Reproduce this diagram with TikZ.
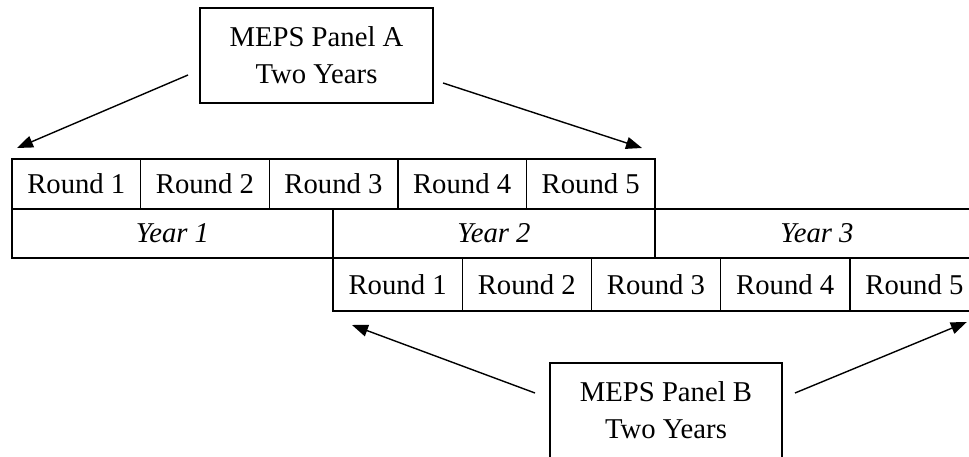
\documentclass[tikz,border=0pt]{standalone}
\usepackage{fontspec}
\setmainfont{Liberation Serif}
\usetikzlibrary{arrows.meta,calc}
\begin{document}
\begin{tikzpicture}[x=1pt,y=-1pt,
  txt/.style={font=\fontsize{28.7}{37}\selectfont},
  cell/.style={draw, line width=1.4pt, inner sep=0pt, outer sep=0pt, anchor=north west, txt},
  toprnd/.style={cell, minimum width=128.6pt, minimum height=50pt},
  yearcell/.style={cell, minimum height=49pt, font=\fontsize{28.7}{37}\selectfont\itshape},
  botrnd/.style={cell, minimum width=129.2pt, minimum height=53pt},
  panel/.style={cell, align=center, minimum width=233pt, minimum height=95pt},
  arr/.style={line width=1.4pt, -{Triangle[length=16pt,width=12pt]}}]
\useasboundingbox (0,0) rectangle (969,457);
\clip (0,0) rectangle (969,457);
% Panel A
\node[panel] (pa) at (200,8) {MEPS Panel A\\Two Years};
% top row of rounds
\node[toprnd] (t1) at (12,159) {Round 1};
\node[toprnd] (t2) at (140.6,159) {Round 2};
\node[toprnd] (t3) at (269.2,159) {Round 3};
\node[toprnd] (t4) at (397.8,159) {Round 4};
\node[toprnd] (t5) at (526.4,159) {Round 5};
% years
\node[yearcell, minimum width=321pt] (y1) at (12,209) {Year 1};
\node[yearcell, minimum width=322pt] (y2) at (333,209) {Year 2};
\node[yearcell, minimum width=324pt] (y3) at (655,209) {Year 3};
% bottom row of rounds
\node[botrnd] (b1) at (333,258) {Round 1};
\node[botrnd] (b2) at (462.2,258) {Round 2};
\node[botrnd] (b3) at (591.4,258) {Round 3};
\node[botrnd] (b4) at (720.6,258) {Round 4};
\node[botrnd] (b5) at (849.8,258) {Round 5};
% Panel B
\node[panel, minimum width=232pt] (pb) at (550,363) {MEPS Panel B\\Two Years};
% connector end points
\coordinate (aLs) at ($(pa.north west)+(-12,67)$);
\coordinate (aLe) at ($(t1.north west)+(5,-11)$);
\coordinate (aRs) at ($(pa.north east)+(10,75)$);
\coordinate (aRe) at ($(t5.north east)+(-13,-11)$);
\coordinate (bLs) at ($(pb.north west)+(-15,30)$);
\coordinate (bLe) at ($(b1.south west)+(19,14)$);
\coordinate (bRs) at ($(pb.north east)+(13,30)$);
\coordinate (bRe) at ($(b5.south west)+(117,11)$);
\draw[arr] (aLs) -- (aLe);
\draw[arr] (aRs) -- (aRe);
\draw[arr] (bLs) -- (bLe);
\draw[arr] (bRs) -- (bRe);
\end{tikzpicture}
\end{document}
